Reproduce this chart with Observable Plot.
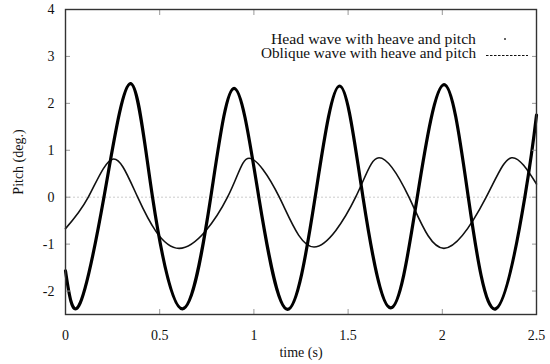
<!DOCTYPE html>
<html>
<head>
<meta charset="utf-8">
<script src="https://cdn.jsdelivr.net/npm/d3@7"></script>
<script src="https://cdn.jsdelivr.net/npm/@observablehq/plot@0.6"></script>
<style>
  html, body { margin: 0; padding: 0; background: #fff; }
</style>
</head>
<body>
<div id="chart"></div>
<script>
// Head wave with heave and pitch (read at peaks, troughs and zero crossings)
const headTime  = [0, 0.07, 0.204, 0.344, 0.462, 0.621, 0.771, 0.895, 1.026, 1.178, 1.325, 1.455, 1.579, 1.726, 1.867, 2.009, 2.138, 2.283, 2.438, 2.5];
const headPitch = [-1.57, -2.32, 0, 2.42, 0, -2.38, 0, 2.32, 0, -2.39, 0, 2.37, 0, -2.36, 0, 2.40, 0, -2.38, 0, 1.75];
// Oblique wave with heave and pitch
const obliqueTime  = [0, 0.121, 0.25, 0.383, 0.603, 0.86, 0.975, 1.135, 1.319, 1.54, 1.664, 1.823, 2.009, 2.233, 2.368, 2.5];
const obliquePitch = [-0.67, 0, 0.81, 0, -1.09, 0, 0.83, 0, -1.06, 0, 0.84, 0, -1.09, 0, 0.84, 0.28];

const xTicks = [0, 0.5, 1, 1.5, 2, 2.5];
const yTicks = [-2, -1, 0, 1, 2, 3, 4];
const seriesNames = ["Head wave with heave and pitch", "Oblique wave with heave and pitch"];

const head = headTime.map((t, i) => ({t, p: headPitch[i]}));
const oblique = obliqueTime.map((t, i) => ({t, p: obliquePitch[i]}));
const fmt = d => String(d);

function legend(index, scales, values, dim) {
  const g = d3.create("svg:g");
  const right = dim.width - dim.marginRight;
  const top = dim.marginTop;
  const rows = [
    {label: seriesNames[0], y: top + 31, kind: "dot", len: 205},
    {label: seriesNames[1], y: top + 45, kind: "dash", len: 215}
  ];
  for (const r of rows) {
    g.append("text")
      .attr("x", right - 60).attr("y", r.y)
      .attr("text-anchor", "end").attr("dy", "0.32em")
      .attr("font-size", 14).attr("fill", "#111")
      .attr("textLength", r.len).attr("lengthAdjust", "spacingAndGlyphs")
      .text(r.label);
    if (r.kind === "dot") {
      g.append("circle").attr("cx", right - 31).attr("cy", r.y - 1).attr("r", 1).attr("fill", "#333");
    } else {
      g.append("line").attr("x1", right - 50).attr("x2", right - 8)
        .attr("y1", r.y + 1.5).attr("y2", r.y + 1.5)
        .attr("stroke", "#111").attr("stroke-width", 1.2).attr("stroke-dasharray", "2.5,1.5");
    }
  }
  return g.node();
}

const chart = Plot.plot({
  width: 550,
  height: 364,
  marginLeft: 65,
  marginRight: 14,
  marginTop: 9,
  marginBottom: 50,
  style: {fontFamily: "'Liberation Serif', 'DejaVu Serif', serif", fontSize: "14px", color: "#111", background: "#fff"},
  x: {domain: [0, 2.5]},
  y: {domain: [-2.5, 4]},
  marks: [
    Plot.ruleY([0], {stroke: "#ccc", strokeDasharray: "2,2", strokeWidth: 1}),
    Plot.line(oblique, {x: "t", y: "p", curve: "natural", stroke: "#111", strokeWidth: 1.6}),
    Plot.line(head, {x: "t", y: "p", curve: "natural", stroke: "#000", strokeWidth: 3.2}),
    Plot.axisX(xTicks, {anchor: "bottom", tickSize: -5, tickPadding: 21, tickFormat: fmt, label: "time (s)", labelAnchor: "center", labelArrow: "none", labelOffset: 42, stroke: "#999", fontSize: 14}),
    Plot.axisX(xTicks, {anchor: "top", tickSize: -5, tickFormat: () => "", label: null, stroke: "#999"}),
    Plot.axisY(yTicks, {anchor: "left", tickSize: -5, tickPadding: 16, tickFormat: fmt, label: "Pitch (deg.)", labelAnchor: "center", labelArrow: "none", labelOffset: 52, stroke: "#999", fontSize: 14}),
    Plot.axisY(yTicks, {anchor: "right", tickSize: -5, tickFormat: () => "", label: null, stroke: "#999"}),
    Plot.frame({stroke: "#333", strokeWidth: 1.4}),
    legend
  ]
});
document.getElementById("chart").appendChild(chart);
</script>
</body>
</html>
